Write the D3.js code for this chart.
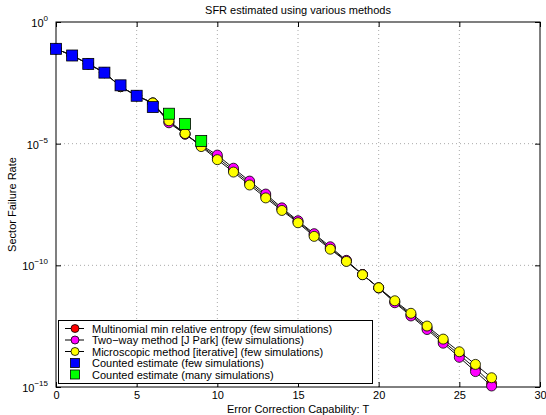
<!DOCTYPE html>
<html><head><meta charset="utf-8">
<script src="https://cdn.jsdelivr.net/npm/d3@7"></script>
<style>body{margin:0;background:#fff}svg{display:block}text{font-family:"Liberation Sans",Arial,sans-serif;fill:#000}</style>
</head><body><svg id="c" width="546" height="415"></svg>
<script>
const T = d3.range(0, 28);
const redVals = [7.9e-2,4.2e-2,1.9e-2,8.3e-3,2.2e-3,9.3e-4,4.7e-4,7.9e-5,2.5e-5,8.1e-6,2.7e-6,8.1e-7,2.4e-7,7.1e-8,2.0e-8,6.2e-9,1.8e-9,5.1e-10,1.5e-10,4.2e-11,1.2e-11,3.2e-12,9.3e-13,2.7e-13,7.6e-14,2.1e-14,5.8e-15,1.4e-15];
const magentaVals = [7.9e-2,4.2e-2,1.9e-2,8.3e-3,2.2e-3,9.3e-4,4.7e-4,7.2e-5,2.45e-5,8.7e-6,3.4e-6,9.8e-7,2.9e-7,8.5e-8,2.3e-8,6.8e-9,2.0e-9,5.8e-10,1.6e-10,4.2e-11,1.17e-11,2.9e-12,8.3e-13,2.3e-13,6.3e-14,1.66e-14,4.3e-15,1.1e-15];
const yellowVals = [7.9e-2,4.2e-2,1.9e-2,8.3e-3,2.2e-3,9.3e-4,4.7e-4,8.7e-5,2.6e-5,7.6e-6,2.2e-6,6.8e-7,2.0e-7,5.9e-8,1.8e-8,5.6e-9,1.55e-9,4.6e-10,1.45e-10,4.1e-11,1.2e-11,3.5e-12,1.07e-12,3.2e-13,9.3e-14,2.8e-14,8.5e-15,2.4e-15];
const blueT = [0,1,2,3,4,5,6];
const blueVals = [7.9e-2,4.2e-2,1.9e-2,8.3e-3,2.5e-3,9.3e-4,3.2e-4];
const greenT = [7,8,9];
const greenVals = [1.7e-4,6.5e-5,1.3e-5];
const xTicks = [0,5,10,15,20,25,30];
const yTickExp = [0,-5,-10,-15];
const title = "SFR estimated using various methods";
const xLabel = "Error Correction Capability: T";
const yLabel = "Sector Failure Rate";
const legendLabels = ["Multinomial min relative entropy (few simulations)","Two\u2212way method [J Park] (few simulations)","Microscopic method [iterative] (few simulations)","Counted estimate (few simulations)","Counted estimate (many simulations)"];
const colors = ["#ff0000","#ff00ff","#ffff00","#0000ff","#00ff00"];

const L=56,R=540,Tp=22,B=387;
const svg = d3.select("#c");
const x = d3.scaleLinear().domain([0,30]).range([L,R]);
const y = d3.scaleLog().domain([1e-15,1]).range([B,Tp]);

// grid
const g = svg.append("g");
xTicks.filter(t=>t>0&&t<30).forEach(t=>{
  g.append("line").attr("x1",x(t)).attr("x2",x(t)).attr("y1",Tp).attr("y2",B).attr("stroke","#aaa").attr("stroke-dasharray","1,3");
});
yTickExp.filter(e=>e<0&&e>-15).forEach(e=>{
  g.append("line").attr("x1",L).attr("x2",R).attr("y1",y(Math.pow(10,e))).attr("y2",y(Math.pow(10,e))).attr("stroke","#aaa").attr("stroke-dasharray","1,3");
});

// axes via d3
const xAxisB = d3.axisBottom(x).tickValues(xTicks).tickSizeInner(-5).tickSizeOuter(0).tickPadding(4).tickFormat(d3.format("d"));
const ax = svg.append("g").attr("transform",`translate(0,${B})`).call(xAxisB);
ax.select(".domain").remove();
ax.selectAll("text").attr("font-size",11).attr("font-family","Liberation Sans, Arial, sans-serif");
const xAxisT = d3.axisTop(x).tickValues(xTicks).tickSizeInner(-5).tickSizeOuter(0).tickFormat("");
const axt = svg.append("g").attr("transform",`translate(0,${Tp})`).call(xAxisT);
axt.select(".domain").remove();
const yVals = yTickExp.map(e=>Math.pow(10,e));
const yAxisL = d3.axisLeft(y).tickValues(yVals).tickSizeInner(-5).tickSizeOuter(0).tickFormat("");
const ayl = svg.append("g").attr("transform",`translate(${L},0)`).call(yAxisL);
ayl.select(".domain").remove();
const yAxisR = d3.axisRight(y).tickValues(yVals).tickSizeInner(-5).tickSizeOuter(0).tickFormat("");
const ayr = svg.append("g").attr("transform",`translate(${R},0)`).call(yAxisR);
ayr.select(".domain").remove();
// y tick labels with superscripts
yTickExp.forEach(e=>{
  const t = svg.append("text").attr("x",L-8).attr("y",y(Math.pow(10,e))+5).attr("text-anchor","end").attr("font-size",11);
  t.append("tspan").text("10");
  t.append("tspan").attr("dy",-6).attr("font-size",8).text(e===0?"0":"\u2212"+(-e));
});
// frame
svg.append("rect").attr("x",L).attr("y",Tp).attr("width",R-L).attr("height",B-Tp).attr("fill","none").attr("stroke","#000");

// series
const line = d3.line().x(d=>x(d[0])).y(d=>y(d[1]));
[[redVals,colors[0]],[magentaVals,colors[1]],[yellowVals,colors[2]]].forEach(([vals,c])=>{
  const pts = T.map((t,i)=>[t,vals[i]]);
  svg.append("path").attr("d",line(pts)).attr("fill","none").attr("stroke","#111").attr("stroke-width",1);
  svg.append("g").selectAll("circle").data(pts).join("circle").attr("cx",d=>x(d[0])).attr("cy",d=>y(d[1])).attr("r",5).attr("fill",c).attr("stroke","#000").attr("stroke-width",0.8);
});
[[blueT,blueVals,colors[3]],[greenT,greenVals,colors[4]]].forEach(([ts,vals,c])=>{
  svg.append("g").selectAll("rect").data(ts.map((t,i)=>[t,vals[i]])).join("rect")
    .attr("x",d=>x(d[0])-5.5).attr("y",d=>y(d[1])-5.5).attr("width",11).attr("height",11)
    .attr("fill",c).attr("stroke","#000").attr("stroke-width",0.8);
});

// legend
const lg = svg.append("g");
lg.append("rect").attr("x",58.5).attr("y",320.5).attr("width",314).attr("height",63).attr("fill","#fff").attr("stroke","#000");
legendLabels.forEach((lab,i)=>{
  const yy = 328.5 + i*11.5;
  if(i<3){
    lg.append("line").attr("x1",65).attr("x2",84).attr("y1",yy).attr("y2",yy).attr("stroke","#000");
    lg.append("circle").attr("cx",75).attr("cy",yy).attr("r",4).attr("fill",colors[i]).attr("stroke","#000").attr("stroke-width",0.8);
  } else {
    lg.append("rect").attr("x",70.5).attr("y",yy-4.5).attr("width",9).attr("height",9).attr("fill",colors[i]).attr("stroke","#000").attr("stroke-width",0.8);
  }
  lg.append("text").attr("x",92).attr("y",yy+4).attr("font-size",11).text(lab);
});

// titles
svg.append("text").attr("x",(L+R)/2).attr("y",14).attr("text-anchor","middle").attr("font-size",11).text(title);
svg.append("text").attr("x",(L+R)/2).attr("y",413).attr("text-anchor","middle").attr("font-size",11).text(xLabel);
svg.append("text").attr("transform",`translate(16,${(Tp+B)/2}) rotate(-90)`).attr("text-anchor","middle").attr("font-size",11).text(yLabel);
</script></body></html>
